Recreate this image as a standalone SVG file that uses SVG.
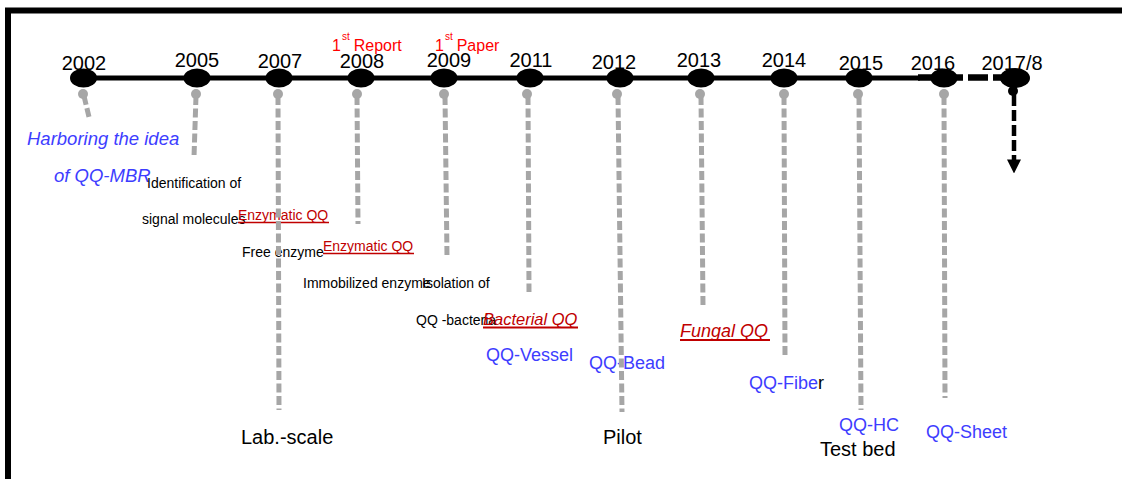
<svg xmlns="http://www.w3.org/2000/svg" width="1122" height="479" viewBox="0 0 1122 479">
<defs>
<style>
text{font-family:"Liberation Sans",Arial,sans-serif;}
.yr{font-size:20px;fill:#000;text-anchor:middle;}
.dot{fill:#000;}
.note{font-size:14px;fill:#000;}
.blue{fill:#3d3dff;font-size:18px;}
.bi{fill:#3d3dff;font-size:18.5px;font-style:italic;}
.dr{fill:#c00000;}
.ul{stroke:#c00000;fill:none;}
.red{fill:#ff0000;font-size:16px;}
.sup{font-size:10px;}
.big{font-size:20px;fill:#000;}
.drop{stroke:#a6a6a6;stroke-width:5;stroke-dasharray:9 3.5;fill:none;}
.gc{fill:#a6a6a6;}
</style>
<marker id="ah" markerUnits="userSpaceOnUse" markerWidth="14" markerHeight="14" refX="0.5" refY="6.5" orient="auto" viewBox="0 0 13 13">
<path d="M0,0 L13,6.5 L0,13 Z" fill="#000"/>
</marker>
</defs>
<rect width="1122" height="479" fill="#fff"/>
<path id="frame" d="M8,479 V10.5 H1122" fill="none" stroke="#000" stroke-width="6"/>

<g id="node-2002"><text class="yr" x="84" y="69.5">2002</text><ellipse class="dot" cx="83.5" cy="78" rx="13.5" ry="9.5"/></g>
<g id="node-2005"><text class="yr" x="197" y="67">2005</text><ellipse class="dot" cx="197" cy="78" rx="13.5" ry="9.5"/></g>
<g id="node-2007"><text class="yr" x="280" y="67.5">2007</text><ellipse class="dot" cx="279" cy="78" rx="13.5" ry="9.5"/></g>
<g id="node-2008"><text class="yr" x="362" y="67.5">2008</text><ellipse class="dot" cx="361" cy="78" rx="13.5" ry="9.5"/>
<text class="red" x="332" y="51">1<tspan class="sup" dx="1" dy="-11">st</tspan><tspan dx="4" dy="11">Report</tspan></text></g>
<g id="node-2009"><text class="yr" x="449" y="67">2009</text><ellipse class="dot" cx="444" cy="78" rx="13.5" ry="9.5"/>
<text class="red" x="435" y="51">1<tspan class="sup" dx="1" dy="-11">st</tspan><tspan dx="4" dy="11">Paper</tspan></text></g>
<g id="node-2011"><text class="yr" x="531" y="67">2011</text><ellipse class="dot" cx="530" cy="78" rx="13.5" ry="9.5"/></g>
<g id="node-2012"><text class="yr" x="614" y="69">2012</text><ellipse class="dot" cx="620" cy="78" rx="13.5" ry="9.5"/></g>
<g id="node-2013"><text class="yr" x="699" y="67">2013</text><ellipse class="dot" cx="701" cy="78" rx="13.5" ry="9.5"/></g>
<g id="node-2014"><text class="yr" x="784" y="67">2014</text><ellipse class="dot" cx="784" cy="78" rx="13.5" ry="9.5"/></g>
<g id="node-2015"><text class="yr" x="861" y="70">2015</text><ellipse class="dot" cx="859" cy="78" rx="13.5" ry="9.5"/></g>
<g id="node-2016"><text class="yr" x="933" y="69.5">2016</text><ellipse class="dot" cx="944" cy="78" rx="13.5" ry="9.5"/></g>
<g id="node-2017"><text class="yr" x="1012" y="70">2017/8</text><ellipse class="dot" cx="1015" cy="78" rx="15" ry="10"/></g>

<g id="note-idea"><text class="bi" x="27" y="145">Harboring the idea</text><text class="bi" x="54" y="182">of QQ-MBR</text></g>
<g id="note-signal"><text class="note" x="147" y="188">Identification of</text><text class="note" x="142" y="224">signal molecules</text></g>
<g id="note-enz1"><text class="note dr" x="238" y="220">Enzymatic QQ</text><line class="ul" x1="238" y1="222.5" x2="329" y2="222.5" stroke-width="1.5"/></g>
<g id="note-free"><text class="note" x="242" y="257">Free enzyme</text></g>
<g id="note-enz2"><text class="note dr" x="323" y="251">Enzymatic QQ</text><line class="ul" x1="323" y1="253.5" x2="414" y2="253.5" stroke-width="1.5"/></g>
<g id="note-immob"><text class="note" x="303" y="288">Immobilized enzyme</text></g>
<g id="note-isol"><text class="note" x="422" y="288">Isolation of</text><text class="note" x="416" y="325">QQ -bacteria</text></g>
<g id="note-bact"><text class="dr" x="483" y="325" style="font-size:16.5px;font-style:italic">Bacterial QQ</text><line class="ul" x1="483" y1="327.5" x2="578" y2="327.5" stroke-width="2"/></g>
<g id="note-vessel"><text class="blue" x="486" y="361">QQ-Vessel</text></g>
<g id="note-bead"><text class="blue" x="589" y="369">QQ-Bead</text></g>
<g id="note-fungal"><text class="dr" x="680" y="337" style="font-size:18px;font-style:italic">Fungal QQ</text><line class="ul" x1="680" y1="340" x2="770" y2="340" stroke-width="2"/></g>
<g id="note-fiber"><text class="blue" x="749" y="389">QQ-Fibe<tspan fill="#000">r</tspan></text></g>
<g id="note-hc"><text class="blue" x="839" y="431">QQ-HC</text><text class="big" x="820" y="456">Test bed</text></g>
<g id="note-sheet"><text class="blue" x="926" y="438">QQ-Sheet</text></g>
<g id="note-lab"><text class="big" x="241" y="444">Lab.-scale</text></g>
<g id="note-pilot"><text class="big" x="603" y="444">Pilot</text></g>

<g id="connectors">
<line x1="83" y1="78" x2="920" y2="78" stroke="#000" stroke-width="5"/>
<line x1="918" y1="77.5" x2="1013" y2="77.5" stroke="#000" stroke-width="6.5" stroke-dasharray="20 5"/>
<g class="gc">
<circle cx="83" cy="94" r="5"/><circle cx="196" cy="94" r="5"/><circle cx="278" cy="94" r="5"/><circle cx="357" cy="94" r="5"/><circle cx="444" cy="94" r="5"/><circle cx="527" cy="94" r="5"/><circle cx="617" cy="94" r="5"/><circle cx="700" cy="94" r="5"/><circle cx="784" cy="94" r="5"/><circle cx="858" cy="94" r="5"/><circle cx="944" cy="94" r="5"/>
</g>
<path class="drop" d="M84,96 L89,117"/>
<path class="drop" d="M196,96 L194,157"/>
<path class="drop" d="M278,96 L279,410"/>
<path class="drop" d="M357,96 L358,224"/>
<path class="drop" d="M445,96 L447,257"/>
<path class="drop" d="M528,96 L529,292"/>
<path class="drop" d="M618,96 L622,412"/>
<path class="drop" d="M701,96 L703,306"/>
<path class="drop" d="M784,96 L785,357"/>
<path class="drop" d="M859,96 L861,410"/>
<path class="drop" d="M944,96 L945,398"/>
<circle cx="1013" cy="91" r="5" fill="#000"/>
<line x1="1014" y1="95" x2="1014" y2="160" stroke="#000" stroke-width="4.5" stroke-dasharray="11 4" marker-end="url(#ah)"/>
</g>
</svg>
